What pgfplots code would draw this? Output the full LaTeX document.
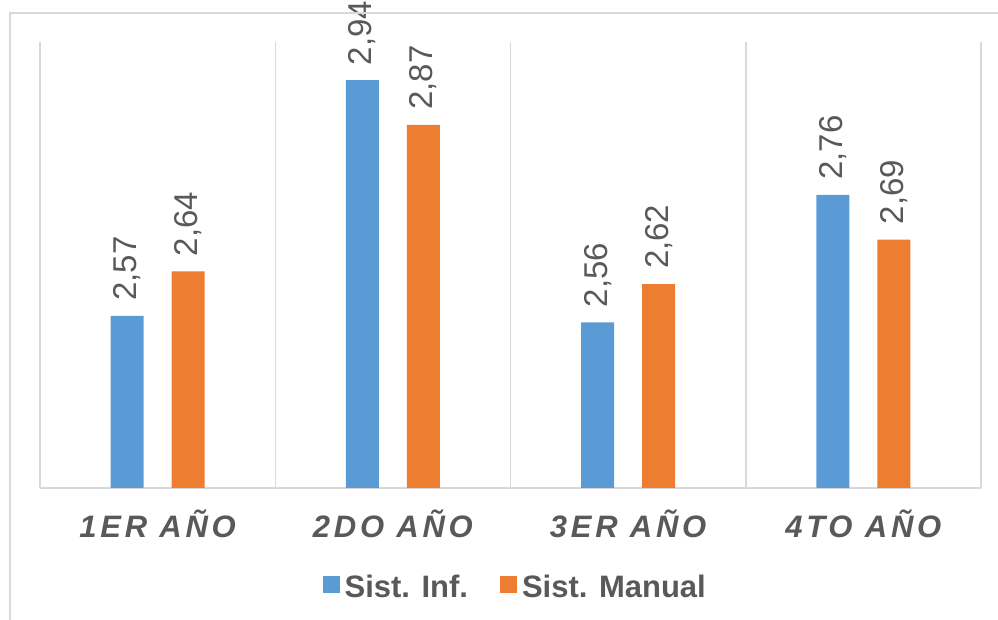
\documentclass[border=0pt]{standalone}
\usepackage{fontspec}
\setmainfont{Liberation Sans}
\usepackage{pgfplots}
\pgfplotsset{compat=1.18}
\definecolor{sblue}{HTML}{5B9BD5}
\definecolor{sorange}{HTML}{ED7D31}
\definecolor{gridgray}{HTML}{D9D9D9}
\definecolor{txtgray}{HTML}{595959}
\begin{document}
\begin{tikzpicture}
\begin{axis}[
  at={(40pt,132pt)}, anchor=south west,
  scale only axis, width=941pt, height=446pt,
  ybar=28pt, bar width=33pt,
  ymin=2.3, ymax=3.0, xmin=-0.5, xmax=3.5,
  axis x line*=bottom, axis y line=none,
  axis line style={draw=gridgray, line width=1.5pt},
  ytick=\empty,
  xtick={0,1,2,3},
  xticklabels={1ER AÑO,2DO AÑO,3ER AÑO,4TO AÑO},
  minor xtick={-0.5,0.5,1.5,2.5,3.5},
  minor x grid style={draw=gridgray, line width=1.5pt},
  xminorgrids=true,
  major tick length=0pt, minor tick length=0pt,
  xticklabel style={anchor=base, yshift=-50pt, text=txtgray,
    font=\fontsize{31}{37}\selectfont\bfseries\itshape\addfontfeature{LetterSpace=12}},
  nodes near coords,
  /pgf/number format/assume math mode=true,
  /pgf/number format/.cd, use comma, fixed, fixed zerofill, precision=2, /pgfplots/.cd,
  every node near coord/.append style={rotate=90, anchor=west, inner xsep=15pt, inner ysep=0pt,
    text=txtgray, font=\fontsize{33}{39}\selectfont},
  legend columns=2,
  legend style={at={(0.505,-0.222)}, anchor=center, draw=none, fill=none,
    font=\fontsize{31}{37}\selectfont\bfseries, text=txtgray,
    /tikz/every even column/.append style={column sep=30pt}},
  legend image code/.code={\path (0pt,0pt) -- (20pt,0pt);\fill[#1] (0pt,-6.4pt) rectangle (17pt,10.6pt);},
]
\addplot[fill=sblue, draw=none] coordinates {(0,2.57) (1,2.94) (2,2.56) (3,2.76)};
\addplot[fill=sorange, draw=none] coordinates {(0,2.64) (1,2.87) (2,2.62) (3,2.69)};
\legend{Sist. Inf.,Sist. Manual}
\end{axis}
\draw[gridgray, line width=1.5pt] (10pt,-5pt) -- (10pt,607pt) -- (1010pt,607pt);
\pgfresetboundingbox
\path[use as bounding box] (0,0) rectangle (998pt,620pt);
\end{tikzpicture}
\end{document}
